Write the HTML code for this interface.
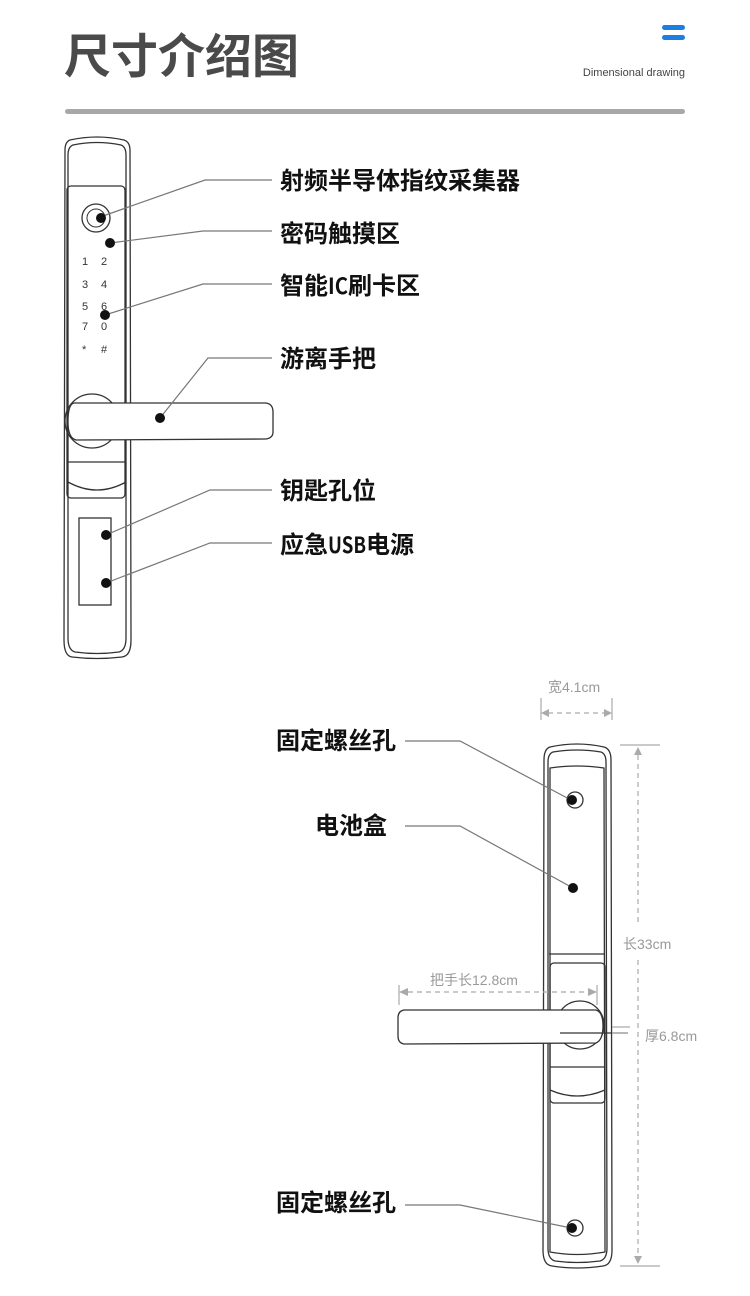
<!DOCTYPE html>
<html><head><meta charset="utf-8"><style>
body{margin:0;background:#fff;width:750px;height:1296px;overflow:hidden}
svg{display:block}
.lb{font-family:"Noto Sans CJK SC",sans-serif;font-weight:bold;font-size:24px;fill:#111}
.dim{font-family:"Liberation Sans","Noto Sans CJK SC",sans-serif;font-size:14px;fill:#999}
</style></head><body>
<svg width="750" height="1296" viewBox="0 0 750 1296" xmlns="http://www.w3.org/2000/svg">
<text x="64" y="73" font-family="'Noto Sans CJK SC',sans-serif" font-size="47" font-weight="bold" fill="#4a4a4a">尺寸介绍图</text>
<rect x="662" y="25" width="23" height="5" rx="2.5" fill="#1a7fe0"/>
<rect x="662" y="35" width="23" height="5" rx="2.5" fill="#1a7fe0"/>
<text x="685" y="76" text-anchor="end" font-family="'Liberation Sans',sans-serif" font-size="11" fill="#444">Dimensional drawing</text>
<rect x="65" y="109" width="620" height="5" rx="2.5" fill="#a8a8a8"/>

<!-- top lock -->
<g fill="none" stroke="#333" stroke-width="1.3">
<path d="M70 140 Q97 134 124 140 Q130 142 130 150 L131 640 Q131 656 122 657 Q97 660 72 657 Q64 656 64 640 L65 150 Q65 142 70 140Z"/>
<path d="M73 145 Q97 140 121 145 Q126 147 126 155 L126 638 Q126 650 119 652 Q97 655 75 652 Q68 650 68 638 L68 155 Q68 147 73 145Z"/>
<rect x="67" y="186" width="58" height="312" rx="4"/>
<path d="M68 482 Q97 498 126 482"/>
<line x1="67" y1="462" x2="125" y2="462"/>
<rect x="79" y="518" width="32" height="87"/>
<circle cx="92" cy="421" r="27"/>
<circle cx="96" cy="218" r="14"/>
<path d="M74 403 L266 403 Q273 404 273 412 L273 432 Q273 438 266 439 L76 440 Q68 438 68 422 Q68 404 74 403Z" fill="#fff"/>
</g>
<circle cx="96" cy="218" r="9" fill="none" stroke="#333"/>
<g font-family="'Liberation Sans',sans-serif" font-size="11" fill="#333">
<text x="82" y="265">1</text><text x="101" y="265">2</text>
<text x="82" y="288">3</text><text x="101" y="288">4</text>
<text x="82" y="310">5</text><text x="101" y="310">6</text>
<text x="82" y="330">7</text><text x="101" y="330">0</text>
<text x="82" y="353">*</text><text x="101" y="353">#</text>
</g>
<g stroke="#777" stroke-width="1.2" fill="none">
<polyline points="103,216 205,180 272,180"/>
<polyline points="110,243 203,231 272,231"/>
<polyline points="105,315 203,284 272,284"/>
<polyline points="160,418 208,358 272,358"/>
<polyline points="106,535 210,490 272,490"/>
<polyline points="106,583 210,543 272,543"/>
</g>
<g fill="#111">
<circle cx="101" cy="218" r="5"/><circle cx="110" cy="243" r="5"/><circle cx="105" cy="315" r="5"/>
<circle cx="160" cy="418" r="5"/><circle cx="106" cy="535" r="5"/><circle cx="106" cy="583" r="5"/>
</g>
<text class="lb" x="280" y="189">射频半导体指纹采集器</text>
<text class="lb" x="280" y="242">密码触摸区</text>
<text class="lb" x="280" y="294">智能<tspan font-size="22" textLength="20" lengthAdjust="spacingAndGlyphs">IC</tspan>刷卡区</text>
<text class="lb" x="280" y="367">游离手把</text>
<text class="lb" x="280" y="499">钥匙孔位</text>
<text class="lb" x="280" y="553">应急<tspan font-size="22" textLength="38" lengthAdjust="spacingAndGlyphs">USB</tspan>电源</text>

<!-- bottom lock -->
<g fill="none" stroke="#333" stroke-width="1.3">
<path d="M550 747 Q577 741 604 747 Q611 749 611 760 L612 1250 Q612 1265 603 1266 Q577 1270 552 1266 Q543 1265 543 1250 L544 760 Q544 749 550 747Z"/>
<path d="M553 752 Q577 748 601 752 Q606 754 606 762 L607 1248 Q607 1259 600 1261 Q577 1264 555 1261 Q548 1259 548 1248 L548 762 Q548 754 553 752Z"/>
<path d="M550 768 Q577 764 604 768 L605 1252 Q577 1257 550 1252Z"/>
<line x1="549" y1="954" x2="605" y2="954"/>
<rect x="550" y="963" width="55" height="140" rx="4"/>
<line x1="550" y1="1067" x2="605" y2="1067"/>
<path d="M550 1090 Q577 1102 605 1090"/>
<circle cx="575" cy="800" r="8"/>
<circle cx="575" cy="1228" r="8"/>
<circle cx="580" cy="1025" r="24"/>
<path d="M404 1010 L596 1010 Q603 1012 603 1026 Q603 1040 596 1043 L404 1044 Q398 1043 398 1036 L398 1018 Q398 1011 404 1010Z" fill="#fff"/>
<line x1="560" y1="1033" x2="628" y2="1033"/>
</g>
<g stroke="#777" stroke-width="1.2" fill="none">
<polyline points="405,741 460,741 571,800"/>
<polyline points="405,826 460,826 573,888"/>
<polyline points="405,1205 460,1205 571,1228"/>
</g>
<g fill="#111"><circle cx="572" cy="800" r="5"/><circle cx="573" cy="888" r="5"/><circle cx="572" cy="1228" r="5"/></g>
<text class="lb" x="276" y="749">固定螺丝孔</text>
<text class="lb" x="315" y="834">电池盒</text>
<text class="lb" x="276" y="1211">固定螺丝孔</text>

<g stroke="#aaa" stroke-width="1.2" fill="none">
<line x1="541" y1="698" x2="541" y2="720"/><line x1="612" y1="698" x2="612" y2="720"/>
<line x1="548" y1="713" x2="605" y2="713" stroke-dasharray="5 4"/>
<line x1="620" y1="745" x2="660" y2="745"/><line x1="620" y1="1266" x2="660" y2="1266"/>
<line x1="638" y1="755" x2="638" y2="925" stroke-dasharray="5 4"/>
<line x1="638" y1="960" x2="638" y2="1256" stroke-dasharray="5 4"/>
<line x1="399" y1="985" x2="399" y2="1005"/><line x1="597" y1="985" x2="597" y2="1005"/>
<line x1="408" y1="992" x2="590" y2="992" stroke-dasharray="5 4"/>
<line x1="612" y1="1027" x2="630" y2="1027"/><line x1="612" y1="1033" x2="628" y2="1033"/>
</g>
<g fill="#aaa">
<polygon points="541,713 549,709 549,717"/><polygon points="612,713 604,709 604,717"/>
<polygon points="638,747 634,755 642,755"/><polygon points="638,1264 634,1256 642,1256"/>
<polygon points="399,992 408,988 408,996"/><polygon points="597,992 588,988 588,996"/>
</g>
<text class="dim" x="548" y="692">宽4.1cm</text>
<text class="dim" x="623" y="949" font-size="16">长33cm</text>
<text class="dim" x="430" y="985">把手长12.8cm</text>
<text class="dim" x="645" y="1041" font-size="15">厚6.8cm</text>
</svg>
</body></html>
